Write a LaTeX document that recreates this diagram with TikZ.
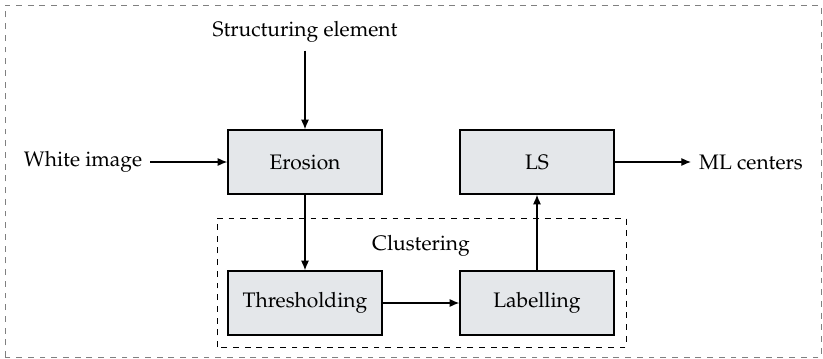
\documentclass[tikz,border=0pt]{standalone}
\usepackage[T1]{fontenc}
\usepackage{mathpazo}
\usetikzlibrary{positioning,arrows.meta}
\definecolor{boxfill}{RGB}{228,231,234}
\tikzset{
  block/.style={draw,thick,fill=boxfill,minimum width=2.77cm,minimum height=1.15cm},
  txt/.style={inner sep=4pt},
  flow/.style={-{Latex[length=5pt,width=4.2pt]},semithick}
}
\begin{document}
\begin{tikzpicture}[x=0.018cm,y=0.018cm,font=\fontsize{10.75}{13}\selectfont]
 \useasboundingbox (0,0) rectangle (823,358);
 \draw [gray,dashed](5,1) rectangle (821,353); 
 \draw [dashed](217,11) rectangle (626,140); 
 \node[block] (erosion) at (305,196) {Erosion};
 \node[block] (ls) at (537,196) {LS};
 \node[block] (thresh) at (305,55) {Thresholding};
 \node[block] (lab) at (537,55) {Labelling};
 \node[txt] (struct) at (305,326) {Structuring element};
 \node[txt] (white) at (83,196) {White image};
 \node[txt] (ml) at (751,196) {ML centers};
 \node (clust) at (421,112) {Clustering};
 \draw[flow](struct) -- (erosion); 
 \draw[flow](white) -- (erosion); 
 \draw[flow](erosion) -- (thresh); 
 \draw[flow](thresh) -- (lab); 
 \draw[flow](lab) -- (ls); 
 \draw[flow](ls) -- (ml); 
\end{tikzpicture}
\end{document}
